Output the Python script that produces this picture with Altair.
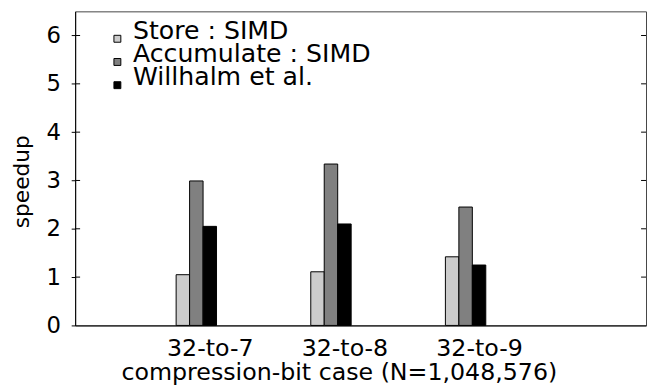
import altair as alt
import pandas as pd

categories = ["32-to-7", "32-to-8", "32-to-9"]
series = ["Store : SIMD", "Accumulate : SIMD", "Willhalm et al."]
store = [1.05, 1.11, 1.42]
accumulate = [2.99, 3.34, 2.45]
willhalm = [2.05, 2.10, 1.25]
colors = ["#cccccc", "#808080", "#000000"]
y_ticks = [0, 1, 2, 3, 4, 5, 6]

rows = []
for gi, cat in enumerate(categories):
    for si, (name, vals) in enumerate(zip(series, [store, accumulate, willhalm])):
        rows.append({"cat": cat, "gi": gi, "series": name, "si": si, "value": vals[gi]})
df = pd.DataFrame(rows)

FONT = "DejaVu Sans"
W, H = 578, 318

label_expr = "[" + ",".join("'%s'" % c for c in categories) + "][round(datum.value - 0.1)]"

xscale = alt.Scale(domain=[-0.9, 3.34], nice=False, zero=False)
yscale = alt.Scale(domain=[0, 6.5], nice=False)

bars = alt.Chart(df).transform_calculate(
    x0="datum.gi + (datum.si - 1) * 0.1 - 0.05",
    x1="datum.gi + (datum.si - 1) * 0.1 + 0.05",
).mark_rect(stroke="#000000", strokeWidth=1).encode(
    x=alt.X("x0:Q", scale=xscale,
            axis=alt.Axis(values=[0.1, 1.1, 2.1], labelExpr=label_expr, ticks=False,
                          grid=False, domainColor="#000000", labelFontSize=24,
                          labelFont=FONT, labelColor="#000000", labelPadding=11.5,
                          title="compression-bit case (N=1,048,576)", titleFont=FONT,
                          titleFontSize=24, titleFontWeight="normal", titleColor="#000000",
                          titleX=267, titleY=35.5, titleBaseline="top")),
    x2="x1:Q",
    y=alt.Y("value:Q", scale=yscale,
            axis=alt.Axis(values=y_ticks, grid=False, domainColor="#000000", tickColor="#000000",
                          tickSize=4, labelFontSize=23, labelFont=FONT, labelColor="#000000",
                          labelPadding=11, title="speedup", titleFont=FONT, titleFontSize=22,
                          titleFontWeight="normal", titleColor="#000000", titlePadding=13,
                          titleY=172)),
    y2=alt.datum(0),
    color=alt.Color("series:N", scale=alt.Scale(domain=series, range=colors),
                    legend=alt.Legend(orient="none", legendX=30, legendY=15, title=None,
                                      symbolType="square", symbolSize=49,
                                      symbolStrokeColor="#000000", symbolStrokeWidth=1,
                                      labelFont=FONT, labelFontSize=25.5, labelColor="#000000",
                                      labelBaseline="alphabetic", labelOffset=3, labelLimit=0,
                                      rowPadding=-3.5, padding=0)),
)

tickdf = pd.DataFrame({"v": y_ticks[1:]})
inner_left = alt.Chart(tickdf).mark_rule(color="#000000", strokeWidth=1).encode(
    y=alt.Y("v:Q", scale=yscale), x=alt.value(0), x2=alt.value(5))
inner_right = alt.Chart(tickdf).mark_rule(color="#000000", strokeWidth=1).encode(
    y=alt.Y("v:Q", scale=yscale), x=alt.value(W - 5), x2=alt.value(W))

chart = alt.layer(bars, inner_left, inner_right).properties(
    width=W, height=H,
    autosize=alt.AutoSizeParams(type="none"),
    padding={"left": 68, "top": 1, "right": 1, "bottom": 64},
).configure_view(stroke="#444444", strokeWidth=1)

chart.save("out.html", embed_options={"renderer": "svg", "actions": False})
